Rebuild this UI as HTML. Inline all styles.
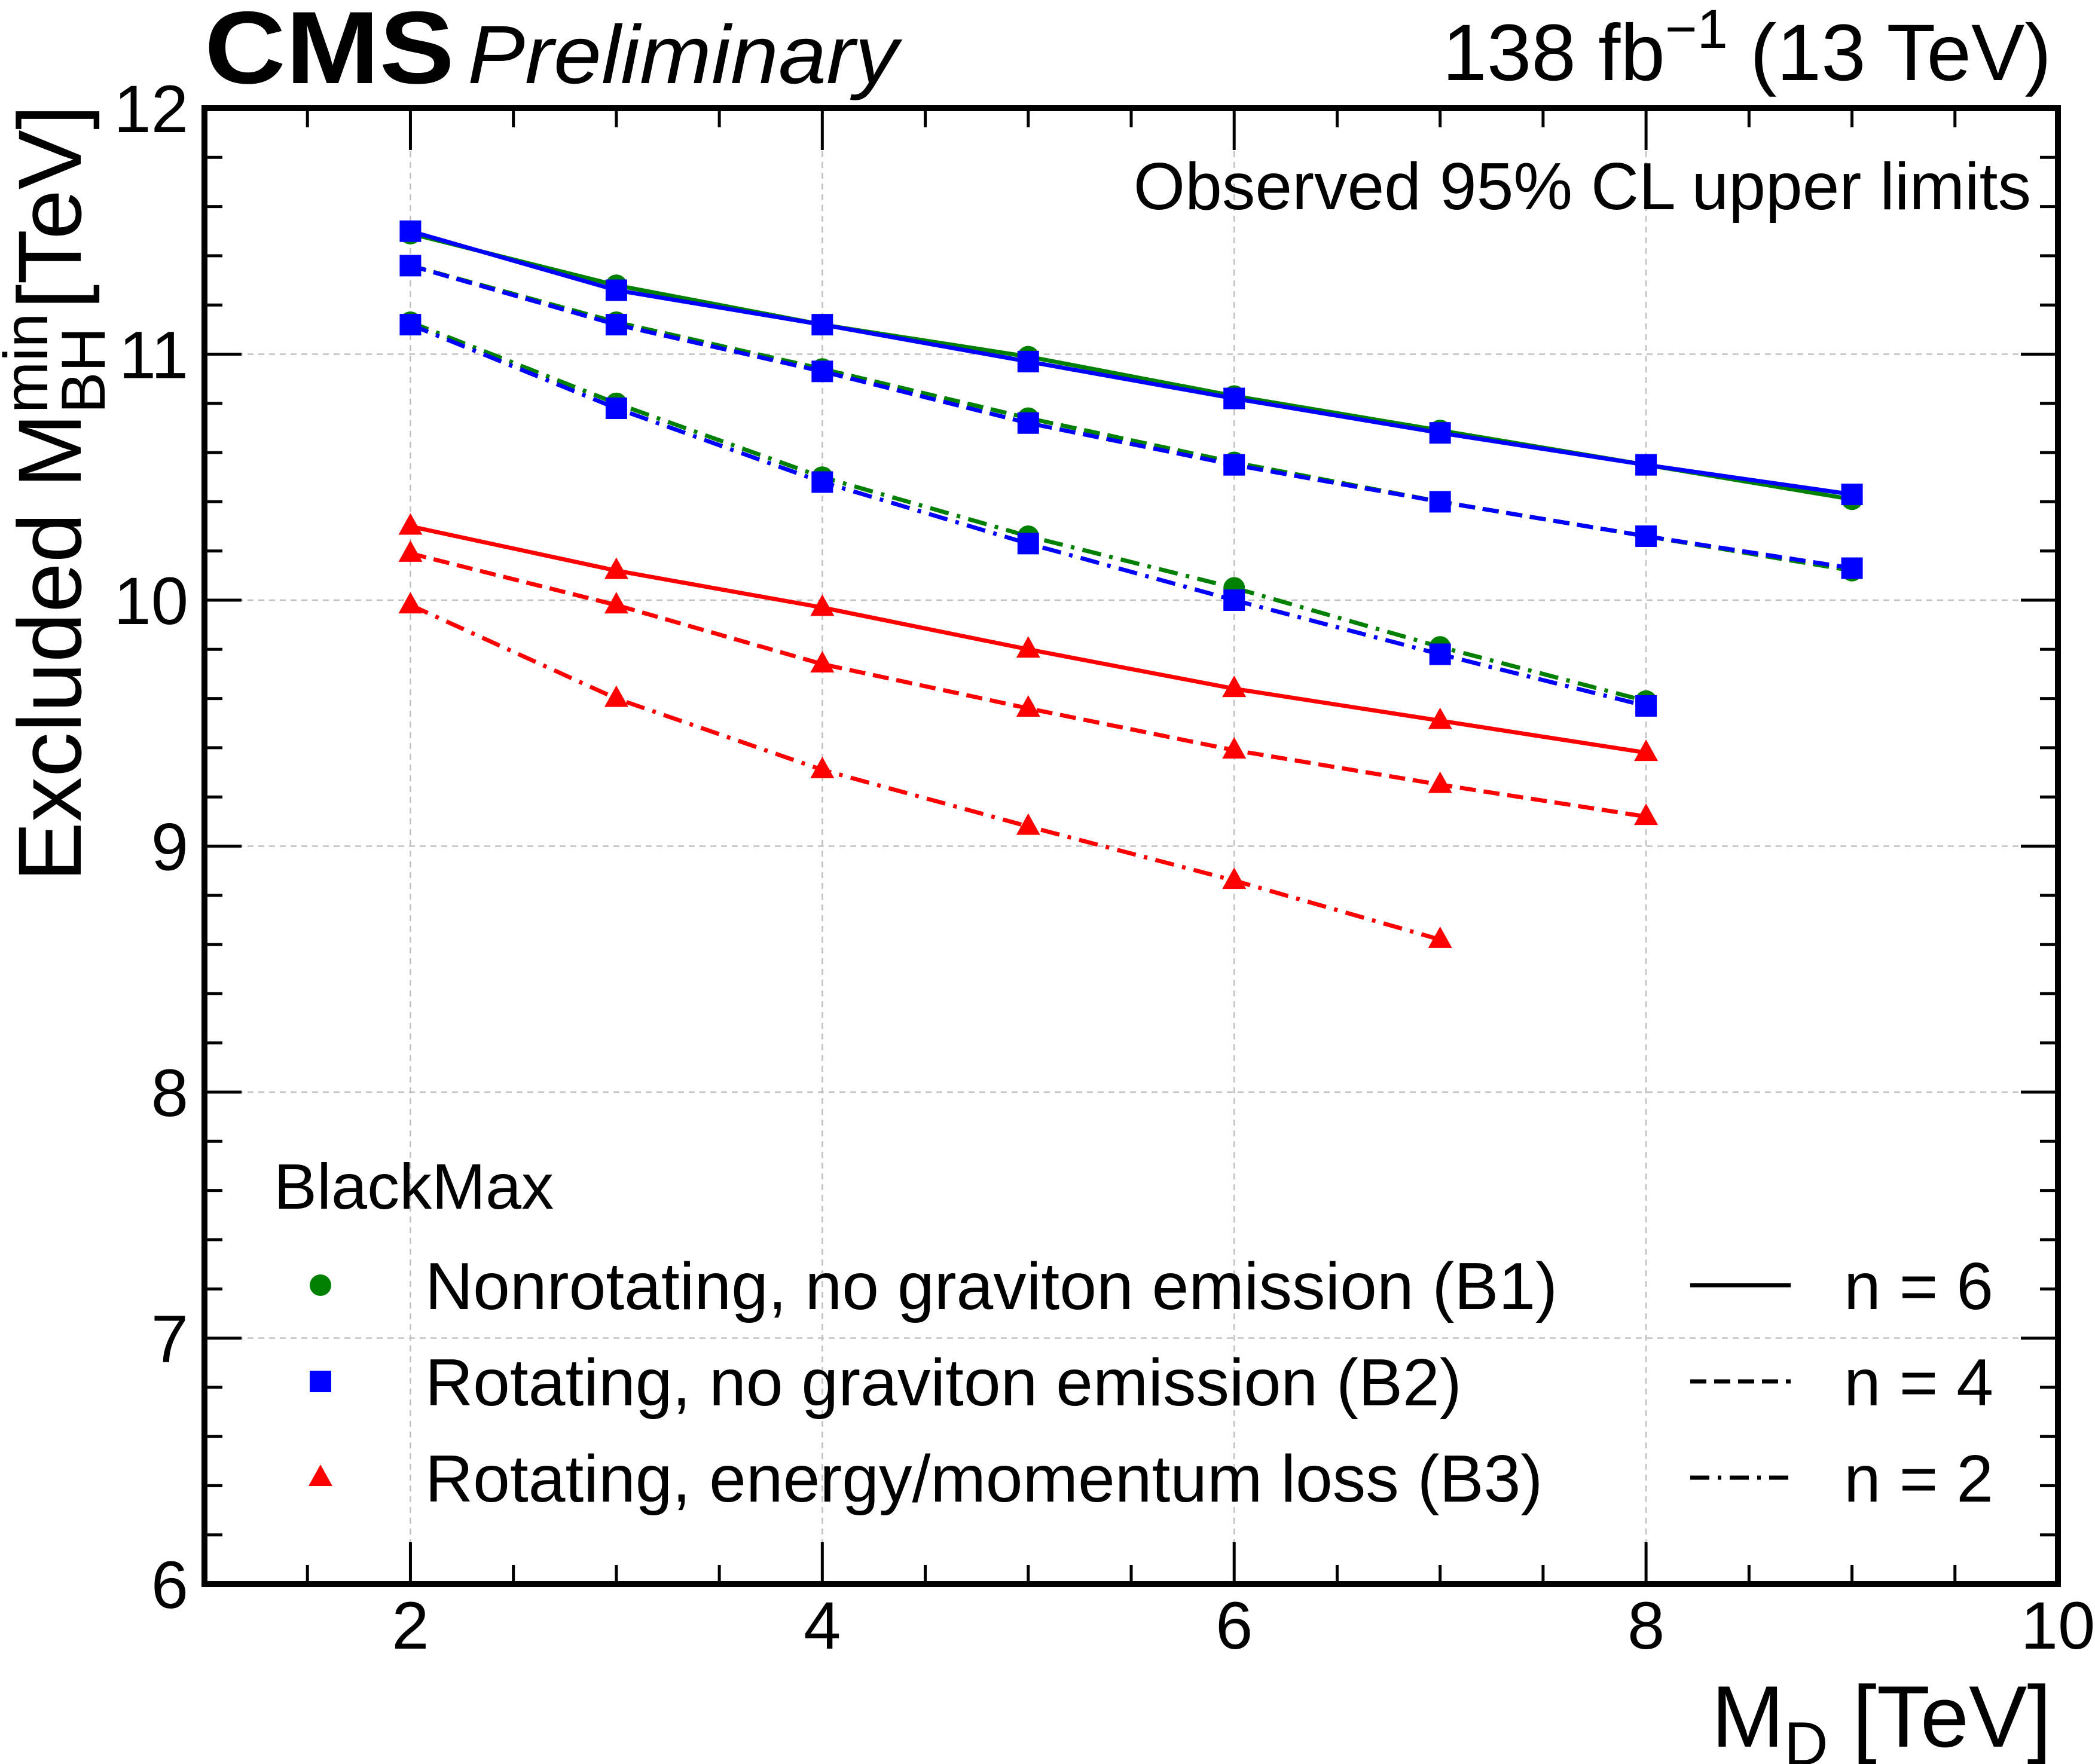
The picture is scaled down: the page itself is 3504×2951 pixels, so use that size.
<!DOCTYPE html>
<html><head><meta charset="utf-8">
<style>
html,body{margin:0;padding:0;background:#fff;}
svg{display:block;font-family:"Liberation Sans",Arial,sans-serif;}
</style></head>
<body>
<svg id="chart" width="3504" height="2951" viewBox="0 0 3504 2951" xmlns="http://www.w3.org/2000/svg">
<rect x="0" y="0" width="3504" height="2951" fill="#fff"/>
<g id="grid"></g>
<g id="series"></g>
<g id="axes"></g>
<text x="342" y="139" font-size="172" font-weight="bold" textLength="418" lengthAdjust="spacingAndGlyphs">CMS</text>
<text x="782" y="139" font-size="138" font-style="italic" textLength="720" lengthAdjust="spacingAndGlyphs">Preliminary</text>
<text x="3431" y="134" font-size="134" text-anchor="end">138 fb<tspan dy="-54" font-size="92">−1</tspan><tspan dy="54"> (13 TeV)</tspan></text>
<text x="3397" y="350" font-size="111" text-anchor="end">Observed 95% CL upper limits</text>
<text x="3431" y="2922" font-size="146" text-anchor="end">M<tspan dy="30" font-size="102">D</tspan><tspan dy="-30"> [TeV]</tspan></text>
<g transform="translate(135,1475) rotate(-90)">
<text x="0" y="0" font-size="150">Excluded M<tspan dy="-56" font-size="104">min</tspan><tspan dx="-168" dy="96" font-size="104">BH</tspan><tspan dx="30" dy="-40">[TeV]</tspan></text>
</g>
<g id="legend">
<text x="458" y="2022" font-size="108">BlackMax</text>
</g>
</svg>
<script>
const xs = [2,3,4,5,6,7,8,9];
const b1n6 = [11.49,11.28,11.12,10.99,10.83,10.69,10.55,10.41];
const b2n6 = [11.50,11.26,11.12,10.97,10.82,10.68,10.55,10.43];
const b1n4 = [11.36,11.13,10.94,10.74,10.56,10.40,10.26,10.12];
const b2n4 = [11.36,11.12,10.93,10.72,10.55,10.40,10.26,10.13];
const b1n2 = [11.13,10.80,10.50,10.26,10.05,9.81,9.59];
const b2n2 = [11.12,10.78,10.48,10.23,10.00,9.78,9.57];
const b3n6 = [10.30,10.12,9.97,9.80,9.64,9.51,9.38];
const b3n4 = [10.19,9.98,9.74,9.56,9.39,9.25,9.12];
const b3n2 = [9.98,9.60,9.31,9.08,8.86,8.62];
const xTicks = [2,4,6,8,10];
const yTicks = [6,7,8,9,10,11,12];

const NS="http://www.w3.org/2000/svg";
const L=342,R=3442,T=181,B=2650;
const X=v=>L+(v-1)*(R-L)/9;
const Y=v=>B-(v-6)*(B-T)/6;
function mk(tag,attrs,parent){const e=document.createElementNS(NS,tag);for(const k in attrs)e.setAttribute(k,attrs[k]);parent.appendChild(e);return e;}
const grid=document.getElementById('grid'),axes=document.getElementById('axes'),ser=document.getElementById('series'),leg=document.getElementById('legend');

xTicks.forEach(v=>{if(v>1&&v<10){const g=mk('line',{x1:X(v),x2:X(v),y1:T,y2:B,stroke:'#c0c0c0','stroke-width':2.5,'stroke-dasharray':'10 8'},grid);

}});
yTicks.forEach(v=>{if(v>6&&v<12){const g=mk('line',{x1:L,x2:R,y1:Y(v),y2:Y(v),stroke:'#c0c0c0','stroke-width':2.5,'stroke-dasharray':'10 8'},grid);

}});

for(let v=1.5;v<10;v+=0.5){const major=xTicks.includes(v);const len=major?70:32;
 mk('line',{x1:X(v),x2:X(v),y1:B,y2:B-len,stroke:'#000','stroke-width':5},axes);
 mk('line',{x1:X(v),x2:X(v),y1:T,y2:T+len,stroke:'#000','stroke-width':5},axes);}
for(let i=1;i<30;i++){const v=6+i*0.2;const major=i%5===0;const len=major?62:30;
 mk('line',{x1:L,x2:L+len,y1:Y(v),y2:Y(v),stroke:'#000','stroke-width':5},axes);
 mk('line',{x1:R,x2:R-len,y1:Y(v),y2:Y(v),stroke:'#000','stroke-width':5},axes);}
const frame=mk('rect',{x:L,y:T,width:R-L,height:B-T,fill:'none',stroke:'#000','stroke-width':10},axes);


xTicks.forEach(v=>{const t=mk('text',{x:X(v),y:2758,'font-size':112,'text-anchor':'middle'},axes);t.textContent=v;

});
yTicks.forEach(v=>{const t=mk('text',{x:315,y:Y(v)+40,'font-size':112,'text-anchor':'end'},axes);t.textContent=v;

});

const dash={solid:'none',dashed:'27 13',dashdot:'32 14 6 14'};
function marker(shape,cx,cy,col,parent){
 if(shape==='circle')return mk('circle',{cx:cx,cy:cy,r:18,fill:col},parent);
 if(shape==='square')return mk('rect',{x:cx-18,y:cy-18,width:36,height:36,fill:col},parent);
 return mk('polygon',{points:`${cx},${cy-22} ${cx-20},${cy+14} ${cx+20},${cy+14}`,fill:col},parent);}
function series(vals,col,style,shape,name){
 const g=mk('g',{},ser);
 
 
 const pts=vals.map((v,i)=>X(xs[i])+','+Y(v)).join(' ');
 mk('polyline',{points:pts,fill:'none',stroke:col,'stroke-width':7,'stroke-dasharray':dash[style]},g);
 vals.forEach((v,i)=>{const m=marker(shape,X(xs[i]),Y(v),col,g);
 
 });}
const GR='#008000',BL='#0000ff',RD='#ff0000';
series(b1n2,GR,'dashdot','circle','b1-n2-line');
series(b1n4,GR,'dashed','circle','b1-n4-line');
series(b1n6,GR,'solid','circle','b1-n6-line');
series(b2n2,BL,'dashdot','square','b2-n2-line');
series(b2n4,BL,'dashed','square','b2-n4-line');
series(b2n6,BL,'solid','square','b2-n6-line');
series(b3n2,RD,'dashdot','triangle','b3-n2-line');
series(b3n4,RD,'dashed','triangle','b3-n4-line');
series(b3n6,RD,'solid','triangle','b3-n6-line');

const ents=[['circle',GR,'Nonrotating, no graviton emission (B1)','solid','n = 6'],
 ['square',BL,'Rotating, no graviton emission (B2)','dashed','n = 4'],
 ['triangle',RD,'Rotating, energy/momentum loss (B3)','dashdot','n = 2']];
ents.forEach((e,i)=>{const cy=2150+i*161;
 const m=marker(e[0],536,cy,e[1],leg);
 
 
 const t=mk('text',{x:711,y:cy+40,'font-size':111},leg);t.textContent=e[2];
 
 
 const l=mk('line',{x1:2827,x2:2995,y1:cy,y2:cy,stroke:'#000','stroke-width':7,'stroke-dasharray':dash[e[3]]},leg);
 
 
 const n=mk('text',{x:3084,y:cy+40,'font-size':111},leg);n.textContent=e[4];
 
 });
</script>
</body></html>
